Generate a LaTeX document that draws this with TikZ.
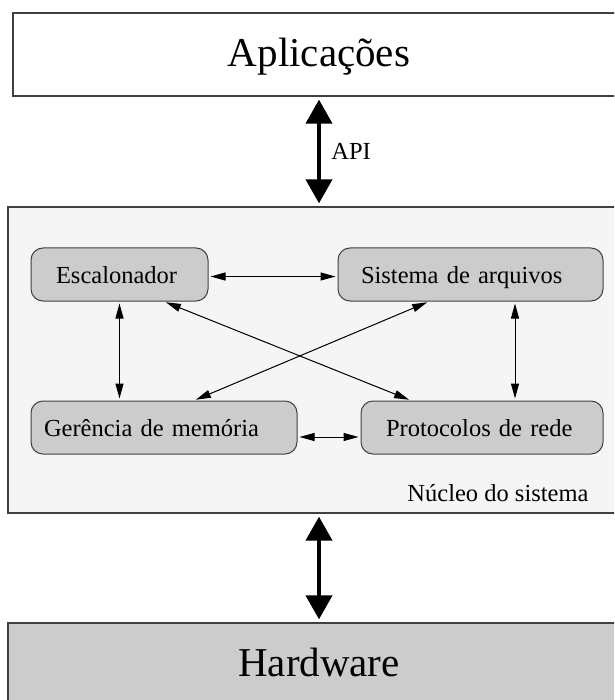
\documentclass[tikz,border=0pt]{standalone}
\usepackage{fontspec}
\setmainfont{Liberation Serif}
\usepackage{tikz}
\usetikzlibrary{shapes,arrows.meta,positioning}
\newcommand{\modfont}{\fontsize{24.5}{29}\selectfont}
\newcommand{\layfont}{\fontsize{41}{48}\selectfont}

\begin{document}
\begin{tikzpicture}[x=1pt, y=-1pt]
            \tikzstyle{layer} = [rectangle, draw=black!75, line width=1.3pt, minimum height=83pt, text height=30pt, text depth=6pt, font=\layfont]
            \tikzstyle{module} = [rectangle, rounded corners=12pt, draw=black!75, fill=black!20, line width=1pt, minimum height=53pt, text height=20pt, text depth=2pt, align=left, font=\modfont]
            \tikzstyle{link} = [{Triangle[length=15pt, width=8pt]}-{Triangle[length=15pt, width=8pt]}, line width=1pt, shorten <=2pt, shorten >=2pt]
            \tikzstyle{bigarrow} = [{Triangle[length=24pt, width=26pt]}-{Triangle[length=24pt, width=26pt]}, line width=4pt, shorten <=3pt, shorten >=3pt]
            \clip (0, 0) rectangle (614, 700);
            \fill[white] (0, 0) rectangle (614, 700);
            \node[layer, fill=white, minimum width=612pt] (apps) at (319, 54.5) {Aplicações};
            \node[layer, fill=black!4, minimum width=622pt, minimum height=306pt] (kernel) at (319, 360) {};
            \node[layer, fill=black!20, minimum width=622pt] (hw) at (319, 664.5) {Hardware};
            \node[anchor=east, font=\modfont] (klabel) at (592, 493) {Núcleo do sistema};
            \node[module, text width=127pt, inner xsep=25pt] (esc) at (119.5, 274.5) {Escalonador};
            \node[module, text width=219pt, inner xsep=23pt] (sis) at (470.5, 274.5) {Sistema de arquivos};
            \node[module, text width=240pt, inner xsep=13pt] (ger) at (164, 427.5) {Gerência de memória};
            \node[module, text width=192pt, inner xsep=25pt] (prot) at (482, 427.5) {Protocolos de rede};
            \draw[bigarrow] (apps.south) -- node[right=7pt, font=\modfont] (api) {API} (kernel.north);
            \draw[bigarrow] (kernel.south) -- (hw.north);
            \draw[link] ([yshift=-2pt]esc.east) -- ([yshift=-2pt]sis.west);
            \draw[link] ([yshift=-9.5pt]ger.east) -- ([yshift=-9.5pt]prot.west);
            \draw[link] (esc.south) -- (esc.south |- ger.north);
            \draw[link] ([xshift=44.5pt]sis.south) -- ([xshift=33pt]prot.north);
            \draw[link] ([xshift=44.5pt]esc.south) -- ([xshift=-71pt]prot.north);
            \draw[link] ([xshift=-41.5pt]sis.south) -- ([xshift=30pt]ger.north);
        \end{tikzpicture}
\end{document}
